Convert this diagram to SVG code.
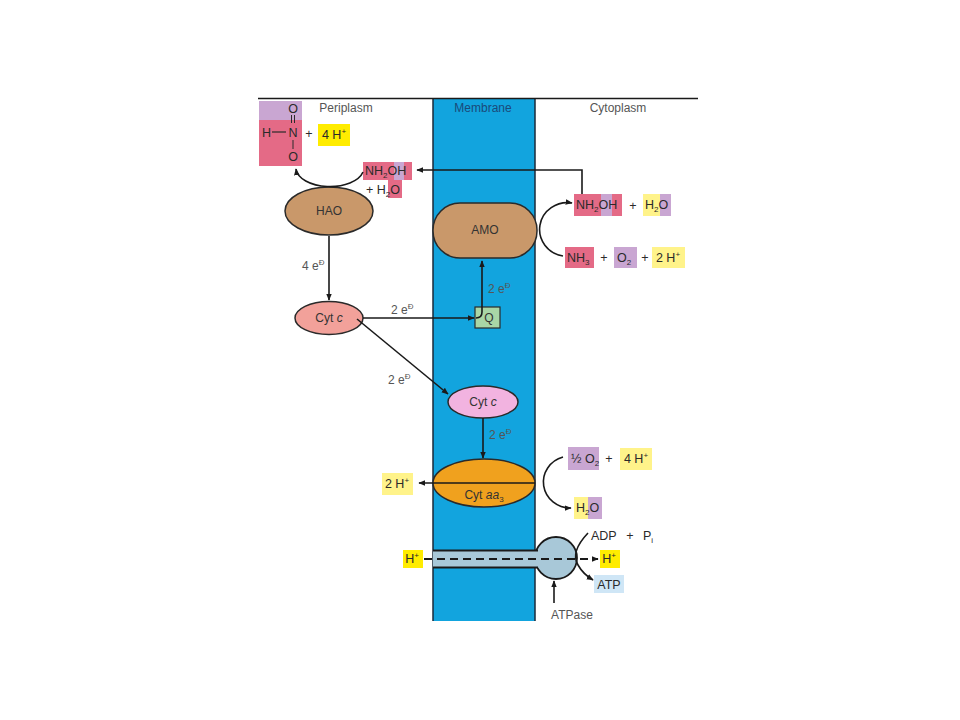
<svg xmlns="http://www.w3.org/2000/svg" width="960" height="720" viewBox="0 0 960 720">
<style>
text{font-family:"Liberation Sans",Arial,sans-serif;}
.lbl{font-size:12px;fill:#555;}
.nd{font-size:12px;fill:#333;}
.cmp{font-size:12.5px;fill:#2a2a2a;}
.node{stroke:#2a2a2a;stroke-width:1.5;}
.ln{stroke:#1a1a1a;stroke-width:1.6;fill:none;}
.pk{fill:#e46a86;}
.lv{fill:#c9a6d2;}
.yb{fill:#ffec00;}
.yp{fill:#fff38a;}
.sub{font-size:8px;}
</style>
<defs>
<marker id="ah" viewBox="0 0 10 10" refX="9" refY="5" markerWidth="7" markerHeight="7" orient="auto" markerUnits="userSpaceOnUse">
<path d="M0,1 L10,5 L0,9 Z" fill="#1a1a1a"/>
</marker>
</defs>
<rect width="960" height="720" fill="#fff"/>

<g id="membrane">
<rect x="433" y="98" width="102" height="523" fill="#12a4de"/>
<line x1="433" y1="98" x2="433" y2="621" stroke="#1a2a3a" stroke-width="1.5"/>
<line x1="535" y1="98" x2="535" y2="621" stroke="#1a2a3a" stroke-width="1.5"/>
</g>
<line x1="258" y1="98.5" x2="698" y2="98.5" stroke="#1a1a1a" stroke-width="1.6"/>
<text x="346" y="112" class="lbl" text-anchor="middle">Periplasm</text>
<text x="483" y="112" font-size="12" fill="#1a4a7a" text-anchor="middle">Membrane</text>
<text x="618" y="112" class="lbl" text-anchor="middle">Cytoplasm</text>

<g id="nitrite">
<rect x="259" y="101" width="43" height="65" class="pk"/>
<rect x="259" y="101" width="43" height="19" class="lv"/>
<text x="293" y="113" class="cmp" text-anchor="middle">O</text>
<line x1="291.5" y1="115" x2="291.5" y2="123" stroke="#2a2a2a" stroke-width="1"/>
<line x1="294.5" y1="115" x2="294.5" y2="123" stroke="#2a2a2a" stroke-width="1"/>
<text x="262" y="137" class="cmp">H</text>
<line x1="272" y1="132" x2="286" y2="132" stroke="#2a2a2a" stroke-width="1.2"/>
<text x="293" y="137" class="cmp" text-anchor="middle">N</text>
<line x1="293" y1="140" x2="293" y2="149" stroke="#2a2a2a" stroke-width="1"/>
<text x="293" y="161" class="cmp" text-anchor="middle">O</text>
<text x="309" y="138" class="cmp" text-anchor="middle">+</text>
<rect x="318" y="124" width="32" height="22" class="yb"/>
<text x="334" y="139" class="cmp" text-anchor="middle">4 H<tspan class="sub" dy="-5">+</tspan></text>
</g>

<g id="nh2oh-peri">
<rect x="363" y="162" width="49" height="18" class="pk"/>
<rect x="394" y="162" width="10" height="18" class="lv"/>
<text x="365" y="175" class="cmp">NH<tspan class="sub" dy="3">2</tspan><tspan dy="-3">OH</tspan></text>
<rect x="388" y="180" width="14" height="18" class="pk"/>
<text x="366" y="194" class="cmp" fill="#555">+ H<tspan class="sub" dy="3">2</tspan><tspan dy="-3">O</tspan></text>
</g>

<g id="hao">
<ellipse cx="329" cy="211" rx="44" ry="24" fill="#c9986a" class="node"/>
<text x="329" y="215" class="nd" text-anchor="middle">HAO</text>
</g>

<g id="amo">
<rect x="433" y="203" width="104" height="55" rx="27" ry="27" fill="#c9986a" class="node"/>
<text x="485" y="234" class="nd" text-anchor="middle">AMO</text>
</g>

<g id="cytc1">
<ellipse cx="329" cy="318" rx="34" ry="16.5" fill="#f2a19a" class="node"/>
<text x="329" y="322" class="nd" text-anchor="middle">Cyt <tspan font-style="italic">c</tspan></text>
</g>

<g id="q">
<rect x="475" y="307" width="25" height="21" fill="#a9d6a6" stroke="#2a2a2a" stroke-width="1.2"/>
<text x="489" y="322" class="nd" text-anchor="middle">Q</text>
</g>

<g id="cytc2">
<ellipse cx="483" cy="402" rx="35" ry="16" fill="#f2b3e0" class="node"/>
<text x="483" y="406" class="nd" text-anchor="middle">Cyt <tspan font-style="italic">c</tspan></text>
</g>

<g id="cytaa3">
<ellipse cx="484" cy="483" rx="51" ry="24" fill="#f0a11e" class="node"/>
<text x="484" y="499" class="nd" text-anchor="middle">Cyt <tspan font-style="italic">aa</tspan><tspan class="sub" dy="3">3</tspan></text>
</g>

<g id="atpase">
<circle cx="556" cy="558" r="21" fill="#a8c8d8" stroke="#1a1a1a" stroke-width="1.8"/>
<rect x="433" y="550.5" width="108" height="17" fill="#a8c8d8"/>
<line x1="433" y1="550.5" x2="538" y2="550.5" stroke="#1a1a1a" stroke-width="1.8"/>
<line x1="433" y1="567.5" x2="538" y2="567.5" stroke="#1a1a1a" stroke-width="1.8"/>
<text x="572" y="619" class="lbl" text-anchor="middle">ATPase</text>
</g>

<g id="cyto-products">
<rect x="574" y="194" width="48" height="22" class="pk"/>
<rect x="601" y="194" width="11" height="22" class="lv"/>
<text x="576" y="209" class="cmp">NH<tspan class="sub" dy="3">2</tspan><tspan dy="-3">OH</tspan></text>
<text x="633" y="210" class="cmp" text-anchor="middle">+</text>
<rect x="643" y="194" width="17" height="22" class="yp"/>
<rect x="660" y="194" width="11" height="22" class="lv"/>
<text x="645" y="209" class="cmp">H<tspan class="sub" dy="3">2</tspan><tspan dy="-3">O</tspan></text>
</g>

<g id="cyto-reactants">
<rect x="565" y="247" width="29" height="21" class="pk"/>
<text x="567" y="262" class="cmp">NH<tspan class="sub" dy="3">3</tspan></text>
<text x="604" y="262" class="cmp" text-anchor="middle">+</text>
<rect x="614" y="247" width="23" height="21" class="lv"/>
<text x="617" y="262" class="cmp">O<tspan class="sub" dy="3">2</tspan></text>
<text x="645" y="262" class="cmp" text-anchor="middle">+</text>
<rect x="652" y="247" width="33" height="21" class="yp"/>
<text x="668" y="262" class="cmp" text-anchor="middle">2 H<tspan class="sub" dy="-5">+</tspan></text>
</g>

<g id="o2-reactants">
<rect x="568" y="447" width="31" height="23" class="lv"/>
<text x="571" y="463" class="cmp">½ O<tspan class="sub" dy="3">2</tspan></text>
<text x="609" y="463" class="cmp" text-anchor="middle">+</text>
<rect x="620" y="448" width="32" height="22" class="yp"/>
<text x="636" y="463" class="cmp" text-anchor="middle">4 H<tspan class="sub" dy="-5">+</tspan></text>
</g>

<g id="water-product">
<rect x="574" y="497" width="14" height="22" class="yp"/>
<rect x="588" y="497" width="14" height="22" class="lv"/>
<text x="576" y="512" class="cmp">H<tspan class="sub" dy="3">2</tspan><tspan dy="-3">O</tspan></text>
</g>

<g id="protons-out">
<rect x="382" y="473" width="31" height="22" class="yp"/>
<text x="397" y="488" class="cmp" text-anchor="middle">2 H<tspan class="sub" dy="-5">+</tspan></text>
</g>

<g id="atp-labels">
<rect x="403" y="550" width="20" height="18" class="yb"/>
<text x="412" y="563" class="cmp" text-anchor="middle">H<tspan class="sub" dy="-5">+</tspan></text>
<rect x="600" y="550" width="20" height="18" class="yb"/>
<text x="609" y="563" class="cmp" text-anchor="middle">H<tspan class="sub" dy="-5">+</tspan></text>
<text x="591" y="540" class="cmp">ADP</text>
<text x="630" y="540" class="cmp" text-anchor="middle">+</text>
<text x="643" y="540" class="cmp">P<tspan class="sub" dy="3">i</tspan></text>
<rect x="594" y="575" width="30" height="18" fill="#cfe6f6"/>
<text x="609" y="589" class="cmp" text-anchor="middle" fill="#333">ATP</text>
</g>

<g id="connectors">
<path class="ln" d="M582,194 L582,170 L417,170" marker-end="url(#ah)"/>
<path class="ln" d="M363,172 A34,19 0 0 1 296,169" marker-end="url(#ah)"/>
<path class="ln" d="M563,256 A27,26 0 0 1 572,203" marker-end="url(#ah)"/>
<line class="ln" x1="329" y1="236" x2="329" y2="300" marker-end="url(#ah)"/>
<line class="ln" x1="363" y1="318" x2="474" y2="318" marker-end="url(#ah)"/>
<path class="ln" d="M476,318 Q482,318 482,312 L482,261" marker-end="url(#ah)"/>
<line class="ln" x1="357" y1="319" x2="448" y2="394" marker-end="url(#ah)"/>
<line class="ln" x1="483" y1="418" x2="483" y2="458" marker-end="url(#ah)"/>
<line class="ln" x1="535" y1="483" x2="419" y2="483" marker-end="url(#ah)"/>
<path class="ln" d="M563,457 A27,26 0 0 0 571,508" marker-end="url(#ah)"/>
<line x1="424" y1="559" x2="598" y2="559" stroke="#1a1a1a" stroke-width="1.8" stroke-dasharray="8,5" marker-end="url(#ah)"/>
<path class="ln" d="M588,533 Q570,552 578,565 Q583,574 593,580" marker-end="url(#ah)"/>
<line class="ln" x1="554" y1="603" x2="554" y2="581" marker-end="url(#ah)"/>
<text x="302" y="270" class="lbl">4 e<tspan class="sub" dy="-5">Ð</tspan></text>
<text x="391" y="314" class="lbl">2 e<tspan class="sub" dy="-5">Ð</tspan></text>
<text x="488" y="293" class="lbl">2 e<tspan class="sub" dy="-5">Ð</tspan></text>
<text x="388" y="384" class="lbl">2 e<tspan class="sub" dy="-5">Ð</tspan></text>
<text x="489" y="439" class="lbl">2 e<tspan class="sub" dy="-5">Ð</tspan></text>
</g>
</svg>
